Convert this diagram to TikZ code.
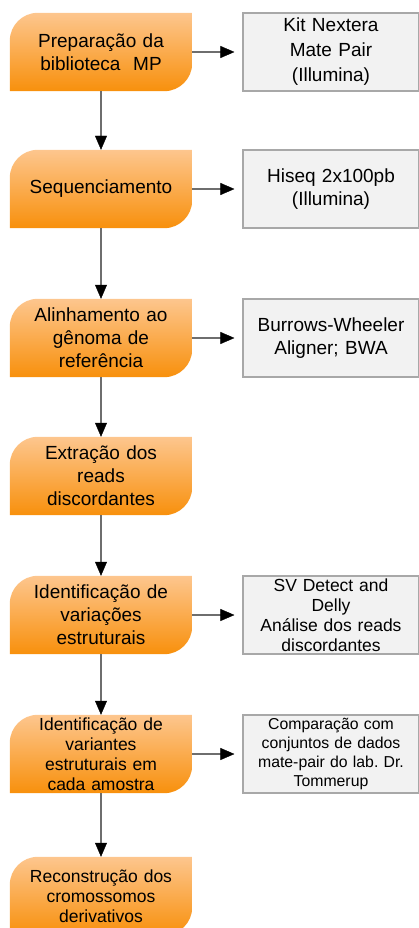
\documentclass[tikz,border=0pt]{standalone}
\usepackage{fontspec}
\setmainfont{Liberation Sans}
\usetikzlibrary{arrows.meta,backgrounds}
\definecolor{EtapaTopo}{HTML}{FDC68E}
\definecolor{EtapaMeio}{HTML}{F99B2A}
\definecolor{EtapaBase}{HTML}{F8900C}
\definecolor{CaixaFundo}{HTML}{F2F2F2}
\definecolor{CaixaBorda}{HTML}{A8A8A8}
\definecolor{LinhaCinza}{HTML}{6E6E6E}
\frenchspacing

\begin{document}
\begin{tikzpicture}[x=1pt,y=-1pt,
    etapa/.style={
      minimum width=182pt,
      minimum height=78pt,
      text width=178pt,
      align=center,
      inner sep=0pt,
      font=\fontsize{19}{23}\selectfont
    },
    etapa menor/.style={etapa, font=\fontsize{17.5}{20}\selectfont},
    fundo etapa/.style={top color=EtapaTopo, middle color=EtapaMeio, bottom color=EtapaBase},
    ferramenta/.style={
      draw=CaixaBorda,
      line width=1.2pt,
      fill=CaixaFundo,
      minimum width=176pt,
      minimum height=78pt,
      text width=172pt,
      align=center,
      inner sep=0pt,
      font=\fontsize{19}{23}\selectfont
    },
    seta/.style={draw=LinhaCinza, line width=2.4pt,
      -{Triangle[length=14pt,width=12pt,color=black,line width=0.4pt]}}
  ]
  \useasboundingbox (0,0) rectangle (418,928);

  % etapas do fluxo
  \node[etapa] (e1) at (101,52) {Preparação da\\biblioteca\ \ MP};
  \node[etapa] (e2) at (101,189) {Sequenciamento};
  \node[etapa] (e3) at (101,338) {Alinhamento ao\\gênoma de\\referência};
  \node[etapa] (e4) at (101,476) {Extração dos\\reads\\discordantes};
  \node[etapa] (e5) at (101,615) {Identificação de\\variações\\estruturais};
  \node[etapa menor] (e6) at (101,754) {Identificação de\\variantes\\estruturais em\\cada amostra};
  \node[etapa menor] (e7) at (101,896) {Reconstrução dos\\cromossomos\\derivativos};

  % ferramentas usadas
  \node[ferramenta] (f1) at (331,52) {Kit Nextera\\[2pt]Mate Pair\\[2pt](Illumina)};
  \node[ferramenta] (f2) at (331,189) {Hiseq 2x100pb\\(Illumina)};
  \node[ferramenta] (f3) at (331,338) {Burrows-Wheeler\\Aligner; BWA};
  \node[ferramenta, font=\fontsize{17.5}{20}\selectfont] (f4) at (331,615)
    {SV Detect and\\Delly\\Análise dos reads\\discordantes};
  \node[ferramenta, font=\fontsize{15.8}{19}\selectfont] (f5) at (331,754)
    {Comparação com\\conjuntos de dados\\mate-pair do lab. Dr.\\Tommerup};

  % fundo laranja com dois cantos arredondados
  \begin{scope}[on background layer]
    \foreach \n in {e1,e2,e3,e4,e5,e6,e7}
      \shade[fundo etapa] (\n.south west) -- ([yshift=-28pt]\n.north west)
        arc[start angle=180, end angle=90, radius=28pt] -- (\n.north east)
        -- ([yshift=28pt]\n.south east)
        arc[start angle=0, end angle=-90, radius=28pt] -- cycle;
  \end{scope}

  % setas
  \foreach \a/\b in {e1/e2,e2/e3,e3/e4,e4/e5,e5/e6,e6/e7}
    \draw[seta] (\a.south) -- (\b.north);
  \foreach \a/\b in {e1/f1,e2/f2,e3/f3,e5/f4,e6/f5}
    \draw[seta, shorten >=8pt] (\a.east) -- (\a.east -| \b.west);
\end{tikzpicture}
\end{document}
